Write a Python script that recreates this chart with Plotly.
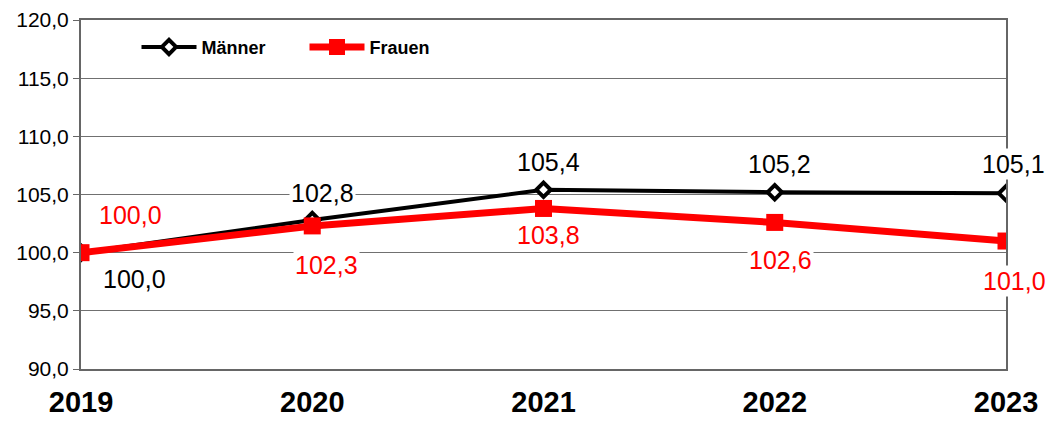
import plotly.graph_objects as go

years = [2019, 2020, 2021, 2022, 2023]
maenner = [100.0, 102.8, 105.4, 105.2, 105.1]
frauen = [100.0, 102.3, 103.8, 102.6, 101.0]
y_ticks = [90, 95, 100, 105, 110, 115, 120]
y_tick_labels = ["90,0", "95,0", "100,0", "105,0", "110,0", "115,0", "120,0"]

# label offsets (pixels): Männer labels above except first; Frauen labels below except first
m_shift = [(53, -26), (10, 27), (5, 28), (5, 28), (7, 29)]
f_shift = [(49, 38), (14, -39), (5, -27), (6, -38), (8, -40)]

FONT = "Liberation Sans, Arial"

def fmt(v):
    return f"{v:.1f}".replace(".", ",")

fig = go.Figure()
fig.add_trace(go.Scatter(
    x=years, y=maenner, name="Männer", mode="lines+markers",
    line=dict(color="black", width=4),
    marker=dict(symbol="diamond", size=11, color="white", line=dict(color="black", width=4)),
))
fig.add_trace(go.Scatter(
    x=years, y=frauen, name="Frauen", mode="lines+markers",
    line=dict(color="#ff0000", width=7),
    marker=dict(symbol="square", size=17, color="#ff0000", line=dict(color="#ff0000", width=0)),
))

annotations = []
for x, v, (dx, dy) in zip(years, maenner, m_shift):
    annotations.append(dict(x=x, y=v, text=fmt(v), showarrow=False, xshift=dx, yshift=dy,
                            font=dict(family=FONT, size=25, color="black"),
                            bgcolor="white", borderpad=1))
for x, v, (dx, dy) in zip(years, frauen, f_shift):
    annotations.append(dict(x=x, y=v, text=fmt(v), showarrow=False, xshift=dx, yshift=dy,
                            font=dict(family=FONT, size=25, color="#ff0000"),
                            bgcolor="white", borderpad=1))

fig.update_layout(
    width=1057, height=421,
    margin=dict(l=81, r=51, t=20, b=52, autoexpand=False),
    paper_bgcolor="white", plot_bgcolor="white",
    font=dict(family=FONT, color="black"),
    showlegend=True,
    legend=dict(orientation="h", x=0.06, y=0.975, xanchor="left", yanchor="top",
                font=dict(size=18, family=FONT, weight="bold"),
                bgcolor="rgba(0,0,0,0)", itemwidth=55, entrywidth=98, tracegroupgap=0),
    annotations=annotations,
    xaxis=dict(range=[2019, 2023], tickvals=years, ticktext=[str(y) for y in years],
               tickfont=dict(size=29, family=FONT, weight="bold"),
               showgrid=False, showline=True, linecolor="#666", linewidth=2, mirror=True,
               ticks="", ticklabelstandoff=6, zeroline=False, automargin=False),
    yaxis=dict(range=[90, 120], tickvals=y_ticks, ticktext=y_tick_labels,
               tickfont=dict(size=21, family=FONT),
               showgrid=True, gridcolor="#707070", gridwidth=1,
               showline=True, linecolor="#666", linewidth=2, mirror=True,
               ticks="outside", ticklen=6, tickcolor="#666", zeroline=False, automargin=False),
)

fig.write_html("out.html", config={"displayModeBar": False},
               post_script="document.body.style.margin='0';document.body.style.overflow='hidden';")
